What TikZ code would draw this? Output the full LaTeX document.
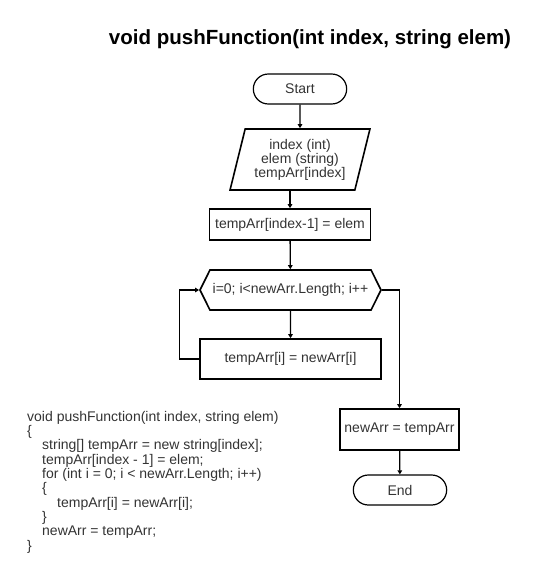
\documentclass[tikz,border=0pt]{standalone}
\usepackage{fontspec}
\setmainfont{Liberation Sans}
\usetikzlibrary{shapes.geometric,shapes.misc,shapes.symbols,arrows.meta}
\definecolor{ink}{HTML}{333333}

\begin{document}
\begin{tikzpicture}[x=1pt, y=-1pt, font=\fontsize{14}{14.3}\selectfont,
    term/.style={draw, rounded rectangle, line width=1.2pt, minimum width=100pt, minimum height=30pt, text=ink},
    proc/.style={draw, rectangle, line width=1.6pt, inner sep=1pt, text=ink},
    arr/.style={line width=1.3pt, -{Triangle[length=4pt,width=4.5pt]}}]
        \useasboundingbox (0,0) rectangle (550,570);
        \node[font=\bfseries\fontsize{20.5}{22}\selectfont] (title) at (310,39) {void pushFunction(int index, string elem)};
        \node[term] (start) at (300,89) {Start};
        \node[proc, trapezium, trapezium left angle=73, trapezium right angle=107, trapezium stretches=true,
            minimum width=140pt, minimum height=61pt, inner sep=0pt, align=center,
            font=\fontsize{14}{14}\selectfont] (input) at (300,159.5) {index (int)\\elem (string)\\tempArr[index]};
        \node[proc, minimum width=161pt, minimum height=31pt] (set) at (290,224.5) {tempArr[index-1] = elem};
        \node[proc, signal, signal to=west and east, signal pointer angle=127,
            minimum width=181pt, minimum height=40pt] (loop) at (290.5,290) {i=0; i<newArr.Length; i++};
        \node[proc, minimum width=181pt, minimum height=40pt] (body) at (290.5,359) {tempArr[i] = newArr[i]};
        \node[proc, minimum width=119pt, minimum height=41pt] (assign) at (399.5,429.5) {newArr = tempArr};
        \node[term] (end) at (400,490) {End};
        \node[anchor=north west, align=left, inner sep=0pt, text=ink] (code) at (27,411) {void pushFunction(int index, string elem)\\
            \{\\
            \hspace*{15pt}string[] tempArr = new string[index];\\
            \hspace*{15pt}tempArr[index - 1] = elem;\\
            \hspace*{15pt}for (int i = 0; i < newArr.Length; i++)\\
            \hspace*{15pt}\{\\
            \hspace*{30pt}tempArr[i] = newArr[i];\\
            \hspace*{15pt}\}\\
            \hspace*{15pt}newArr = tempArr;\\
            \}};
        \draw[arr] (start) -- (input);
        \draw[arr] (input.south -| set.north) -- (set);
        \draw[arr] (set) -- (loop);
        \draw[arr] (loop) -- (body);
        \draw[arr] (body.west) -- ++(-20,0) |- (loop.west);
        \draw[arr] (loop.east) -| (assign.north);
        \draw[arr] (assign) -- (end);
    \end{tikzpicture}
\end{document}
